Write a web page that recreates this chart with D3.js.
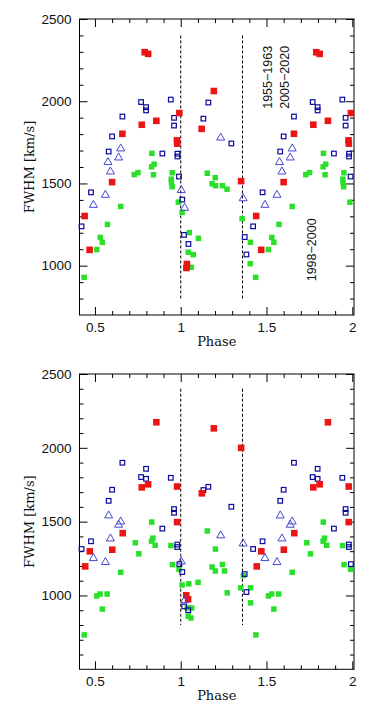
<!DOCTYPE html>
<html>
<head>
<meta charset="utf-8">
<script src="https://cdn.jsdelivr.net/npm/d3@7/dist/d3.min.js"></script>
<style>
  body { margin: 0; background: #fff; }
</style>
</head>
<body>
<svg id="chart"></svg>
<script>
// ticks and labels
const phaseTicks = [0.5, 1, 1.5, 2];
const phaseLabels = ["0.5", "1", "1.5", "2"];
const fwhmTicks = [1000, 1500, 2000, 2500];
const markPhases = [1, 1.36];
const eraLabels = ["1955−1963", "2005−2020", "1998−2000"];

// top panel  [phase, FWHM]
const topRed = [[0.44,1302],[0.469,1096],[0.60,1508],[0.66,1802],[0.773,1857],[0.79,2298],[0.81,2288],[0.858,1881],[0.978,1762],[0.98,1742],[0.992,1928],[1.033,986],[1.036,1010],[1.122,1832],[1.193,2062],[1.352,1514]];
const topGreen = [[0.437,929],[0.511,1098],[0.531,1172],[0.543,1142],[0.573,1251],[0.65,1360],[0.729,1554],[0.751,1566],[0.83,1601],[0.845,1617],[0.832,1683],[0.841,1553],[0.951,1565],[0.945,1526],[0.946,1505],[0.95,1480],[0.986,1386],[1.008,1324],[1.05,1201],[1.103,1166],[1.044,1082],[1.073,1067],[1.061,990],[1.155,1562],[1.201,1535],[1.183,1498],[1.203,1486],[1.243,1486],[1.27,1465],[1.358,1286],[1.406,1142],[1.405,1012]];
const topBlue = [[0.422,1239],[0.477,1446],[0.60,1786],[0.58,1694],[0.66,1907],[0.769,1995],[0.798,1964],[0.798,1944],[0.893,1682],[0.942,2010],[0.961,1899],[0.961,1852],[0.981,1681],[0.981,1664],[0.99,1542],[1.009,1402],[1.019,1187],[1.045,1132],[1.132,1894],[1.161,1992],[1.295,1743],[1.373,1174],[1.383,1068]];
const topTri = [[0.491,1376],[0.561,1437],[0.576,1636],[0.59,1579],[0.638,1664],[0.65,1719],[1.003,1466],[1.023,1358],[1.233,1785],[1.364,1416]];

// bottom panel
const botRed = [[0.443,1197],[0.47,1299],[0.601,1310],[0.662,1422],[0.773,1732],[0.81,1753],[0.858,2173],[0.979,1738],[0.979,1497],[1.032,1001],[1.043,974],[1.123,1692],[1.193,2132],[1.352,2000]];
const botGreen = [[0.438,733],[0.511,997],[0.53,1010],[0.571,1010],[0.543,908],[0.65,1157],[0.735,1357],[0.756,1282],[0.831,1497],[0.83,1368],[0.838,1388],[0.851,1340],[0.943,1338],[0.952,1209],[0.99,1177],[1.008,1071],[1.047,1079],[1.101,1089],[1.155,1437],[1.202,1314],[1.183,1193],[1.202,1166],[1.243,1210],[1.255,1166],[1.271,1018],[1.038,916],[1.064,915],[1.044,860],[1.06,847],[1.35,1052],[1.365,1135],[1.407,1052],[1.407,950]];
const botBlue = [[0.422,1315],[0.477,1367],[0.58,1641],[0.60,1716],[0.66,1899],[0.769,1802],[0.798,1858],[0.798,1790],[0.893,1453],[0.942,1797],[0.961,1585],[0.961,1560],[0.98,1345],[0.98,1328],[0.992,1212],[1.009,1159],[1.02,926],[1.044,900],[1.132,1714],[1.161,1736],[1.295,1601],[1.373,1145],[1.383,1023]];
const botTri = [[0.491,1260],[0.561,1233],[0.58,1549],[0.59,1393],[0.638,1486],[0.65,1508],[1.003,1237],[1.023,975],[1.233,1414],[1.364,1359]];

const width = 372, height = 719;
const marginLeft = 79.5, marginRight = 18;

const svg = d3.select("#chart")
  .attr("width", width)
  .attr("height", height)
  .attr("viewBox", [0, 0, width, height]);

const x = d3.scaleLinear()
  .domain([0.41, 2.01])
  .range([marginLeft, width - marginRight]);

// phase-folded: each point shown again one cycle later
const fold = pts => pts.flatMap(d => d[0] + 1 <= 2.0 ? [d, [d[0] + 1, d[1]]] : [d]);

function panel(top, bottom, yMin, red, green, blue, tri, withEras) {
  const y = d3.scaleLinear().domain([yMin, 2500]).range([bottom, top]);
  const g = svg.append("g");

  const minorX = d3.range(5, 21).map(i => i / 10).filter(v => !phaseTicks.includes(v));
  const minorY = d3.range(yMin + 100, 2500, 100).filter(v => !fwhmTicks.includes(v));

  // ticks on all four sides, pointing inward
  const tickAxes = [
    [d3.axisBottom(x), bottom, 0],
    [d3.axisTop(x), top, 0],
    [d3.axisLeft(y), marginLeft, 1],
    [d3.axisRight(y), width - marginRight, 1]
  ];
  tickAxes.forEach(([ax, pos, vert]) => {
    const tr = vert ? `translate(${pos},0)` : `translate(0,${pos})`;
    g.append("g").attr("transform", tr)
      .call(ax.tickValues(vert ? fwhmTicks : phaseTicks).tickSize(-8).tickFormat(""))
      .call(s => s.select(".domain").remove());
    g.append("g").attr("transform", tr)
      .call(ax.tickValues(vert ? minorY : minorX).tickSize(-4).tickFormat(""))
      .call(s => s.select(".domain").remove());
  });

  g.selectAll(".tick line").attr("stroke", "#000").attr("stroke-width", 1);

  // tick labels
  g.append("g")
    .attr("transform", `translate(0,${bottom})`)
    .call(d3.axisBottom(x).tickValues(phaseTicks).tickFormat((d, i) => phaseLabels[i]).tickSize(0).tickPadding(7))
    .call(s => s.select(".domain").remove())
    .call(s => s.selectAll("text").attr("font-family", "'Liberation Sans', Arial, sans-serif").attr("font-size", 13.5).attr("fill", "#111"));

  g.append("g")
    .attr("transform", `translate(${marginLeft},0)`)
    .call(d3.axisLeft(y).tickValues(fwhmTicks).tickFormat(d3.format("d")).tickSize(0).tickPadding(8))
    .call(s => s.select(".domain").remove())
    .call(s => s.selectAll("text").attr("font-family", "'Liberation Sans', Arial, sans-serif").attr("font-size", 13.5).attr("fill", "#111"));

  // frame
  g.append("rect")
    .attr("x", marginLeft).attr("y", top)
    .attr("width", width - marginRight - marginLeft).attr("height", bottom - top)
    .attr("fill", "none").attr("stroke", "#000").attr("stroke-width", 1);

  // axis titles
  g.append("text")
    .attr("x", (marginLeft + width - marginRight) / 2)
    .attr("y", bottom + 31)
    .attr("text-anchor", "middle")
    .attr("font-family", "'DejaVu Serif', serif")
    .attr("font-size", 13)
    .attr("fill", "#111")
    .text("Phase");

  g.append("text")
    .attr("transform", `translate(34,${(top + bottom) / 2}) rotate(-90)`)
    .attr("text-anchor", "middle")
    .attr("font-family", "'DejaVu Serif', serif")
    .attr("font-size", 13)
    .attr("fill", "#111")
    .text("FWHM [km/s]");

  // dashed phase markers
  g.append("g").selectAll("line")
    .data(markPhases)
    .join("line")
    .attr("x1", d => x(d)).attr("x2", d => x(d))
    .attr("y1", y(2400)).attr("y2", y(800))
    .attr("stroke", "#000").attr("stroke-width", 1)
    .attr("stroke-dasharray", "3,2");

  if (withEras) {
    const pos = [[1.532, 1954], [1.634, 1954], [1.786, 905]];
    g.append("g").selectAll("text")
      .data(eraLabels)
      .join("text")
      .attr("transform", (d, i) => `translate(${x(pos[i][0])},${y(pos[i][1])}) rotate(-90)`)
      .attr("font-family", "'Liberation Sans', Arial, sans-serif")
      .attr("font-size", 12.5)
      .attr("fill", "#111")
      .text(d => d);
  }

  // green filled squares
  const gs = 5.5;
  g.append("g").attr("fill", "#2be02b")
    .selectAll("rect").data(fold(green)).join("rect")
    .attr("x", d => x(d[0]) - gs / 2).attr("y", d => y(d[1]) - gs / 2)
    .attr("width", gs).attr("height", gs);

  // blue open squares
  const bs = 4.6;
  g.append("g").attr("fill", "none").attr("stroke", "#0a0a9c").attr("stroke-width", 1.2)
    .selectAll("rect").data(fold(blue)).join("rect")
    .attr("x", d => x(d[0]) - bs / 2).attr("y", d => y(d[1]) - bs / 2)
    .attr("width", bs).attr("height", bs);

  // red filled squares
  const rs = 6.6;
  g.append("g").attr("fill", "#ec1515")
    .selectAll("rect").data(fold(red)).join("rect")
    .attr("x", d => x(d[0]) - rs / 2).attr("y", d => y(d[1]) - rs / 2)
    .attr("width", rs).attr("height", rs);

  // open triangles
  const tw = 4, th = 3.5;
  g.append("g").attr("fill", "none").attr("stroke", "#4646d2").attr("stroke-width", 1)
    .selectAll("path").data(fold(tri)).join("path")
    .attr("d", d => {
      const cx = x(d[0]), cy = y(d[1]);
      return `M${cx},${cy - th}L${cx + tw},${cy + th}L${cx - tw},${cy + th}Z`;
    });
}

panel(19, 315, 700, topRed, topGreen, topBlue, topTri, true);
panel(374, 669.3, 500, botRed, botGreen, botBlue, botTri, false);
</script>
</body>
</html>
